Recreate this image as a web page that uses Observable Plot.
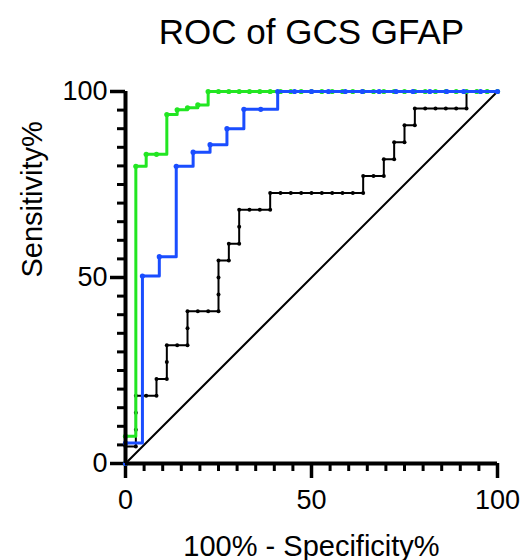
<!DOCTYPE html>
<html>
<head>
<meta charset="utf-8">
<script src="https://cdn.jsdelivr.net/npm/d3@7"></script>
<script src="https://cdn.jsdelivr.net/npm/@observablehq/plot@0.6"></script>
<style>
  html, body { margin: 0; padding: 0; background: #fff; }
  #chart { width: 524px; height: 560px; }
</style>
</head>
<body>
<div id="chart"></div>
<script>
// ---- Data ----
const titleText = "ROC of GCS GFAP";
const xLabel = "100% - Specificity%";
const yLabel = "Sensitivity%";
const majorTicks = [0, 50, 100];
const minorTicks = [5, 10, 15, 20, 25, 30, 35, 40, 45, 55, 60, 65, 70, 75, 80, 85, 90, 95];

// reference diagonal
const diagX = [0, 100];
const diagY = [0, 100];

// black curve (100% - specificity, sensitivity)
const blackX = [0,0,2.78,2.78,2.78,2.78,5.56,8.33,8.33,11.11,11.11,11.11,13.89,16.67,16.67,16.67,19.44,22.22,25,25,25,25,27.78,27.78,30.56,30.56,30.56,33.33,36.11,38.89,38.89,41.67,44.44,47.22,50,52.78,55.56,58.33,61.11,63.89,63.89,66.67,69.44,69.44,72.22,72.22,75,75,77.78,77.78,80.56,83.33,86.11,88.89,91.67,91.67,94.44,97.22,100];
const blackY = [0,4.55,4.55,9.09,13.64,18.18,18.18,18.18,22.73,22.73,27.27,31.82,31.82,31.82,36.36,40.91,40.91,40.91,40.91,45.45,50,54.55,54.55,59.09,59.09,63.64,68.18,68.18,68.18,68.18,72.73,72.73,72.73,72.73,72.73,72.73,72.73,72.73,72.73,72.73,77.27,77.27,77.27,81.82,81.82,86.36,86.36,90.91,90.91,95.45,95.45,95.45,95.45,95.45,95.45,100,100,100,100];

// green curve
const greenX = [0,0,2.78,5.56,8.33,11.11,13.89,16.67,19.44,22.22,25,27.78,30.56,33.33,36.11,38.89,41.67,44.44,47.22,50,52.78,55.56,58.33,61.11,63.89,66.67,69.44,72.22,75,77.78,80.56,83.33,86.11,88.89,91.67,94.44,97.22,100];
const greenY = [0,7.3,79.9,83.1,83.1,93.8,95.1,95.6,96.4,100,100,100,100,100,100,100,100,100,100,100,100,100,100,100,100,100,100,100,100,100,100,100,100,100,100,100,100,100];

// blue curve
const blueX = [0,0,4.55,9.09,13.64,18.18,22.73,27.27,31.82,36.36,40.91,45.45,50,54.55,59.09,63.64,68.18,72.73,77.27,81.82,86.36,90.91,95.45,100];
const blueY = [0,5.5,50.4,55.6,79.9,83.7,85.7,90.0,95.2,95.2,100,100,100,100,100,100,100,100,100,100,100,100,100,100];

const GREEN = "#22e622";
const BLUE = "#1a4dff";

const toRows = (xs, ys) => xs.map((x, i) => ({x, y: ys[i]}));
const diag = toRows(diagX, diagY);
const black = toRows(blackX, blackY);
const green = toRows(greenX, greenY);
const blue = toRows(blueX, blueY);

const chart = Plot.plot({
  width: 524,
  height: 560,
  marginLeft: 125,
  marginRight: 27,
  marginTop: 91,
  marginBottom: 97,
  style: {fontFamily: "'Liberation Sans', Arial, sans-serif", color: "#000", background: "#fff"},
  x: {domain: [0, 100]},
  y: {domain: [0, 100]},
  marks: [
    // minor ticks
    Plot.axisX({ticks: minorTicks, tickSize: 8, strokeWidth: 3, tickFormat: () => "", label: null}),
    Plot.axisY({ticks: minorTicks, tickSize: 8, strokeWidth: 3, tickFormat: () => "", label: null}),
    // major ticks + labels
    Plot.axisX({ticks: majorTicks, tickSize: 15, strokeWidth: 3.5, tickPadding: 11, fontSize: 27, label: null, tickFormat: d => String(d)}),
    Plot.axisY({ticks: majorTicks, tickSize: 15, strokeWidth: 3.5, tickPadding: 3, fontSize: 27, label: null, tickFormat: d => String(d)}),
    // diagonal
    Plot.line(diag, {x: "x", y: "y", stroke: "#000", strokeWidth: 2}),
    // black curve
    Plot.line(black, {x: "x", y: "y", curve: "step-after", stroke: "#000", strokeWidth: 2}),
    Plot.dot(black, {x: "x", y: "y", r: 2, fill: "#000", stroke: "none"}),
    // green curve
    Plot.line(green, {x: "x", y: "y", curve: "step-after", stroke: GREEN, strokeWidth: 3}),
    Plot.dot(green, {x: "x", y: "y", r: 2.6, fill: GREEN, stroke: "none"}),
    // blue curve
    Plot.line(blue, {x: "x", y: "y", curve: "step-after", stroke: BLUE, strokeWidth: 3}),
    Plot.dot(blue, {x: "x", y: "y", r: 2.6, fill: BLUE, stroke: "none"}),
    // axis lines
    Plot.ruleX([0], {stroke: "#000", strokeWidth: 4}),
    Plot.ruleY([0], {stroke: "#000", strokeWidth: 4}),
    // texts
    Plot.text([titleText], {text: d => d, frameAnchor: "top", lineAnchor: "bottom", dy: -48, fontSize: 35, fill: "#000"}),
    Plot.text([xLabel], {text: d => d, frameAnchor: "bottom", lineAnchor: "bottom", dy: 92, fontSize: 29, fill: "#000"}),
    Plot.text([yLabel], {text: d => d, frameAnchor: "left", lineAnchor: "bottom", rotate: -90, dx: -84, fontSize: 29, fill: "#000"})
  ]
});
document.getElementById("chart").appendChild(chart);
</script>
</body>
</html>
